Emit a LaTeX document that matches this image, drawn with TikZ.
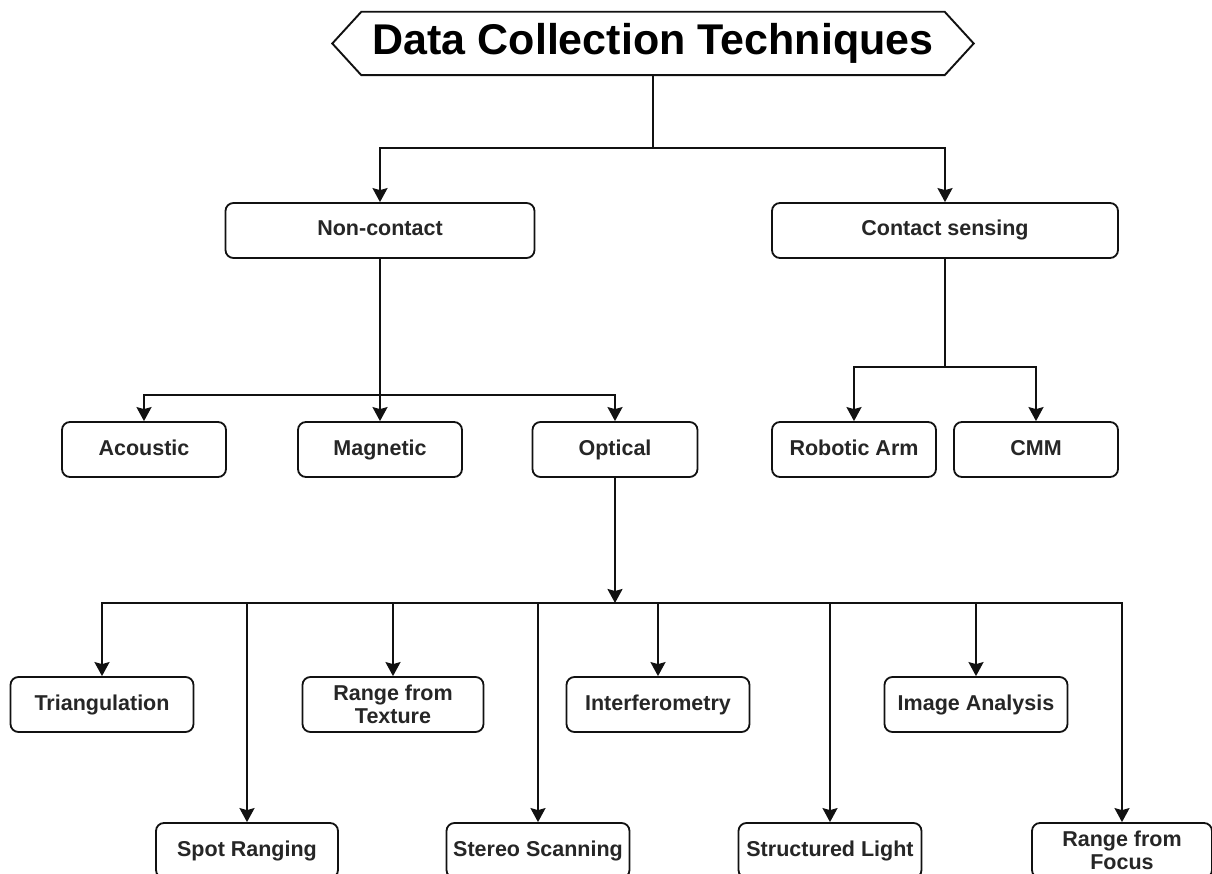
\documentclass[tikz,border=0pt]{standalone}
\usepackage{fontspec}
\setmainfont{Liberation Sans}
\usetikzlibrary{arrows.meta,calc}

\definecolor{labelgray}{HTML}{262626}
\definecolor{linegray}{HTML}{111111}

\tikzset{
  wire/.style={draw=linegray, line width=1.9pt},
  arrowwire/.style={wire, -{Stealth[length=14pt,width=15pt,inset=2pt]}},
  box/.style={draw=linegray, line width=1.8pt, rounded corners=8pt, fill=white,
    minimum height=55pt, inner sep=0pt, align=center, text=labelgray,
    font=\bfseries\fontsize{21.5}{23}\selectfont},
  oneline/.style={box, text height=15.5pt, text depth=4.5pt},
  headline/.style={minimum width=583pt, minimum height=63pt, inner sep=0pt,
    text height=31pt, text depth=9pt,
    font=\bfseries\fontsize{43}{43}\selectfont, text=black},
}

\begin{document}
\begin{tikzpicture}[x=1pt,y=-1pt]
  \useasboundingbox (0,0) rectangle (1212,874);
  \clip (0,0) rectangle (1212,874);
  \fill[white] (0,0) rectangle (1212,874);

  % heading in a hexagonal frame
  \node[headline] (title) at (653,43.5) {Data Collection Techniques};
  \draw[wire, line join=miter]
    (title.north west) -- (title.north east) -- ([xshift=29pt]title.east)
    -- (title.south east) -- (title.south west) -- ([xshift=-29pt]title.west) -- cycle;

  % first level
  \node[oneline, minimum width=309pt] (noncontact) at (380,230.5) {Non-contact};
  \node[oneline, minimum width=346pt] (contact) at (945,230.5) {Contact sensing};

  % second level
  \node[oneline, minimum width=164pt] (acoustic) at (144,449.5) {Acoustic};
  \node[oneline, minimum width=164pt] (magnetic) at (380,449.5) {Magnetic};
  \node[oneline, minimum width=165pt] (optical) at (615,449.5) {Optical};
  \node[oneline, minimum width=164pt] (robotic) at (854,449.5) {Robotic Arm};
  \node[oneline, minimum width=164pt] (cmm) at (1036,449.5) {CMM};

  % optical methods, upper row
  \node[oneline, minimum width=183pt] (triang) at (102,704.5) {Triangulation};
  \node[box, minimum width=181pt] (texture) at (393,704.5) {Range from\\Texture};
  \node[oneline, minimum width=183pt] (interf) at (658,704.5) {Interferometry};
  \node[oneline, minimum width=183pt] (image) at (976,704.5) {Image Analysis};

  % optical methods, lower row
  \node[oneline, minimum width=182pt] (spot) at (247,850.5) {Spot Ranging};
  \node[oneline, minimum width=183pt] (stereo) at (538,850.5) {Stereo Scanning};
  \node[oneline, minimum width=183pt] (struct) at (830,850.5) {Structured Light};
  \node[box, minimum width=180pt] (focus) at (1122,850.5) {Range from\\Focus};

  % junction points
  \coordinate (j0) at (653,148);
  \coordinate (j1) at (380,395);
  \coordinate (j2) at (945,367);
  \coordinate (j3) at (615,603);

  % heading to first level
  \draw[wire] (title.south) -- (j0);
  \draw[arrowwire] (j0) -| (noncontact.north);
  \draw[arrowwire] (j0) -| (contact.north);

  % non-contact branch
  \draw[wire] (noncontact.south) -- (j1);
  \draw[arrowwire] (j1) -| (acoustic.north);
  \draw[arrowwire] (j1) -- (magnetic.north);
  \draw[arrowwire] (j1) -| (optical.north);

  % contact branch
  \draw[wire] (contact.south) -- (j2);
  \draw[arrowwire] (j2) -| (robotic.north);
  \draw[arrowwire] (j2) -| (cmm.north);

  % optical branch
  \draw[arrowwire] (optical.south) -- (j3);
  \draw[arrowwire] (j3) -| (triang.north);
  \draw[arrowwire] (j3) -| (spot.north);
  \draw[arrowwire] (j3) -| (texture.north);
  \draw[arrowwire] (j3) -| (stereo.north);
  \draw[arrowwire] (j3) -| (interf.north);
  \draw[arrowwire] (j3) -| (struct.north);
  \draw[arrowwire] (j3) -| (image.north);
  \draw[arrowwire] (j3) -| (focus.north);
\end{tikzpicture}
\end{document}
